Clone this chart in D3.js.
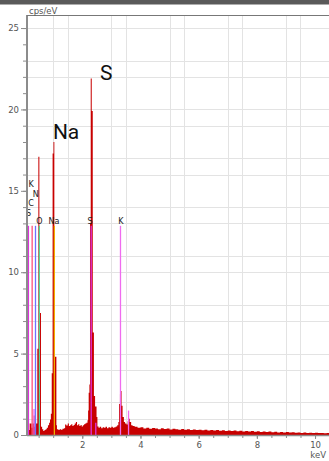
<!DOCTYPE html>
<html><head><meta charset="utf-8">
<script src="https://cdn.jsdelivr.net/npm/d3@7"></script>
<style>
html,body{margin:0;padding:0;background:#fff;}
svg{display:block;}
</style>
</head><body>
<svg id="chart" width="329" height="461"></svg>
<script>
// ---------------- DATA ----------------
// spectrum segments: [energy keV, cps/eV]
const lowSpectrum = [[0.10,0.2],[0.15,0.3],[0.19,0.7],[0.26,0.45],[0.29,0.7],[0.33,1.2],[0.36,0.5],[0.40,0.7],[0.455,5.3],[0.49,17.1],[0.525,7.5],[0.58,0.5],[0.62,0.35],[0.66,0.25],[0.70,0.3],[0.74,0.35],[0.78,0.45],[0.82,0.6],[0.86,0.75],[0.89,0.95]];
const naPeak = [[0.92,1.3],[0.95,3.8],[0.98,17.3],[1.01,18.0],[1.04,11.8],[1.06,4.8],[1.11,0.6]];
const midSpectrum = [[1.13,0.35],[1.18,0.3],[1.22,0.36],[1.27,0.33],[1.32,0.38],[1.37,0.42],[1.41,0.65],[1.45,0.58],[1.50,0.7],[1.54,0.55],[1.58,0.6],[1.62,0.66],[1.66,0.55],[1.70,0.62],[1.74,0.7],[1.78,0.8],[1.82,0.6],[1.86,0.66],[1.90,0.55],[1.94,0.62],[1.98,0.52],[2.02,0.6],[2.06,0.66],[2.10,0.7],[2.14,0.75],[2.18,0.9]];
const sPeak = [[2.20,1.5],[2.22,2.6],[2.245,3.1],[2.265,13.0],[2.29,21.9],[2.325,19.9],[2.36,6.3],[2.40,2.4],[2.44,1.75],[2.49,1.1]];
const kPeak = [[2.52,0.52],[2.56,0.45],[2.60,0.5],[2.65,0.42],[2.70,0.48],[2.75,0.44],[2.80,0.5],[2.85,0.42],[2.90,0.47],[2.95,0.45],[3.00,0.5],[3.05,0.44],[3.10,0.48],[3.15,0.52],[3.20,0.6],[3.24,0.8],[3.265,1.9],[3.295,2.5],[3.31,2.7],[3.35,1.8],[3.385,1.1],[3.43,0.8],[3.47,0.7],[3.52,0.65],[3.56,0.85],[3.59,1.0],[3.63,0.8],[3.68,0.6],[3.73,0.55]];
const tailSpectrum = [[3.8,0.50],[3.9,0.44],[4.0,0.47],[4.1,0.40],[4.2,0.45],[4.3,0.38],[4.4,0.43],[4.5,0.40],[4.6,0.36],[4.7,0.42],[4.8,0.37],[4.9,0.40],[5.0,0.34],[5.1,0.38],[5.2,0.35],[5.3,0.33],[5.4,0.37],[5.5,0.32],[5.6,0.35],[5.7,0.31],[5.8,0.34],[5.9,0.30],[6.0,0.32],[6.1,0.29],[6.2,0.33],[6.3,0.28],[6.4,0.31],[6.5,0.27],[6.6,0.30],[6.7,0.26],[6.8,0.29],[6.9,0.25],[7.0,0.28],[7.1,0.24],[7.2,0.27],[7.3,0.23],[7.4,0.26],[7.5,0.22],[7.6,0.25],[7.7,0.21],[7.8,0.24],[7.9,0.20],[8.0,0.23],[8.1,0.19],[8.2,0.22],[8.3,0.18],[8.4,0.21],[8.5,0.17],[8.6,0.20],[8.7,0.16],[8.8,0.19],[8.9,0.15],[9.0,0.18],[9.1,0.15],[9.2,0.17],[9.3,0.14],[9.4,0.16],[9.5,0.13],[9.6,0.15],[9.7,0.13],[9.8,0.14],[9.9,0.12],[10.0,0.14],[10.1,0.12],[10.2,0.13],[10.3,0.11],[10.4,0.12],[10.5,0.11]];

// element marker lines
const markerElement = ["S","C","K","N","O","Na","S","S","K","K"];
const markerEnergy  = [0.149,0.277,0.341,0.392,0.525,1.041,2.307,2.464,3.313,3.590];
const markerHeight  = [12.85,12.85,1.6,12.85,12.85,12.85,12.85,0.75,12.85,1.5];

// marker labels
const labelText   = ["K","N","C","S","O","Na","S","K"];
const labelEnergy = [0.24,0.40,0.24,0.15,0.53,1.03,2.27,3.33];
const labelLevel  = [15.23,14.65,14.07,13.45,12.95,12.95,12.95,12.95];

// big annotations
const annotText   = ["S","Na"];
const annotEnergy = [2.61,0.99];
const annotLevel  = [21.8,18.2];

const yMajorTicks = [0,5,10,15,20,25];
const xMajorTicks = [2,4,6,8,10];

// ---------------- STYLE ----------------
const elementColor = {S:"#dd33dd", C:"#ff4f7a", N:"#7070ff", O:"#55d89a", Na:"#f0b000", K:"#ef6bef"};
const spectrumColor = "#c80000";
const axisColor = "#8c8c8c";
const gridColor = "#e3e3e3";
const tickFont = "DejaVu Sans";

// ---------------- CHART ----------------
const svg = d3.select("#chart");
const W = 329, H = 461;
const mLeft = 27, mRight = 329, mTop = 16, mBottom = 435;

const x = d3.scaleLinear().domain([0.1, 10.48]).range([mLeft, mRight]);
const y = d3.scaleLinear().domain([0, 25.74]).range([mBottom, mTop]);

// top dark bar
svg.append("rect").attr("x",0).attr("y",0).attr("width",W).attr("height",4.5).attr("fill","#5a5a5a");

// grid
const yGrid = d3.range(1, 26).filter(v => v % 3 !== 0);
const xGrid = d3.range(0.5, 10.5, 0.5).filter(v => (Math.floor(v) % 2 === 1));
svg.append("g").selectAll("line").data(yGrid).join("line")
  .attr("x1", mLeft).attr("x2", mRight)
  .attr("y1", d => Math.round(y(d)) + 0.5).attr("y2", d => Math.round(y(d)) + 0.5)
  .attr("stroke", gridColor).attr("stroke-width", 1);
svg.append("g").selectAll("line").data(xGrid).join("line")
  .attr("y1", mTop).attr("y2", mBottom)
  .attr("x1", d => Math.round(x(d)) + 0.5).attr("x2", d => Math.round(x(d)) + 0.5)
  .attr("stroke", gridColor).attr("stroke-width", 1);

// spectrum
const spectrum = [].concat(lowSpectrum, naPeak, midSpectrum, sPeak, kPeak, tailSpectrum);
const area = d3.area()
  .x(d => x(d[0])).y0(y(0)).y1(d => y(d[1]))
  .curve(d3.curveStepAfter);
svg.append("path").datum(spectrum).attr("d", area).attr("fill", spectrumColor);

// marker lines
const markers = markerEnergy.map((e, i) => ({e, h: markerHeight[i], el: markerElement[i]}));
svg.append("g").selectAll("line").data(markers).join("line")
  .attr("x1", d => x(d.e)).attr("x2", d => x(d.e))
  .attr("y1", y(0)).attr("y2", d => y(d.h))
  .attr("stroke", d => elementColor[d.el]).attr("stroke-width", 1.3);

// marker labels
svg.append("g").selectAll("text").data(labelText).join("text")
  .attr("x", (d, i) => x(labelEnergy[i])).attr("y", (d, i) => y(labelLevel[i]))
  .attr("text-anchor", "middle")
  .attr("font-family", tickFont).attr("font-size", 8).attr("fill", "#222")
  .text(d => d);

// axes
const yAxisMinor = d3.axisLeft(y).tickValues(d3.range(0, 26, 1)).tickSize(4).tickFormat("");
const yAxisMajor = d3.axisLeft(y).tickValues(yMajorTicks).tickSize(6).tickPadding(2);
const gyMinor = svg.append("g").attr("transform", `translate(${mLeft},0)`).call(yAxisMinor);
const gy = svg.append("g").attr("transform", `translate(${mLeft},0)`).call(yAxisMajor);
[gyMinor, gy].forEach(g => {
  g.select(".domain").remove();
  g.selectAll("line").attr("stroke", axisColor);
});
gy.selectAll("text").attr("font-family", tickFont).attr("font-size", 8.5).attr("fill", "#555");

const xAxisMinor = d3.axisBottom(x).tickValues(d3.range(0.5, 10.5, 0.5)).tickSize(3).tickFormat("");
const xAxisMajor = d3.axisBottom(x).tickValues(xMajorTicks).tickSize(4).tickPadding(3).tickFormat(d3.format("d"));
const gxMinor = svg.append("g").attr("transform", `translate(0,${mBottom})`).call(xAxisMinor);
const gx = svg.append("g").attr("transform", `translate(0,${mBottom})`).call(xAxisMajor);
[gxMinor, gx].forEach(g => {
  g.select(".domain").remove();
  g.selectAll("line").attr("stroke", axisColor);
});
gx.selectAll("text").attr("font-family", tickFont).attr("font-size", 8.5).attr("fill", "#555");

// axis lines and top border
svg.append("line").attr("x1", mLeft).attr("x2", mLeft).attr("y1", mTop - 1).attr("y2", mBottom + 1)
  .attr("stroke", axisColor).attr("stroke-width", 2);
svg.append("line").attr("x1", mLeft).attr("x2", mRight).attr("y1", mBottom + 0.5).attr("y2", mBottom + 0.5)
  .attr("stroke", axisColor).attr("stroke-width", 1.5);
svg.append("line").attr("x1", mLeft).attr("x2", mRight).attr("y1", mTop - 0.5).attr("y2", mTop - 0.5)
  .attr("stroke", "#777").attr("stroke-width", 1);

// axis titles
svg.append("text").attr("x", mLeft + 2).attr("y", 14).attr("font-family", tickFont)
  .attr("font-size", 8.5).attr("fill", "#555").text("cps/eV");
svg.append("text").attr("x", 326).attr("y", 458).attr("text-anchor", "end").attr("font-family", tickFont)
  .attr("font-size", 8.5).attr("fill", "#555").text("keV");

// big annotations
svg.append("g").selectAll("text").data(annotText).join("text")
  .attr("x", (d, i) => x(annotEnergy[i])).attr("y", (d, i) => y(annotLevel[i]))
  .attr("font-family", "Roboto").attr("font-size", 21).attr("fill", "#111")
  .text(d => d);
</script>
</body></html>
